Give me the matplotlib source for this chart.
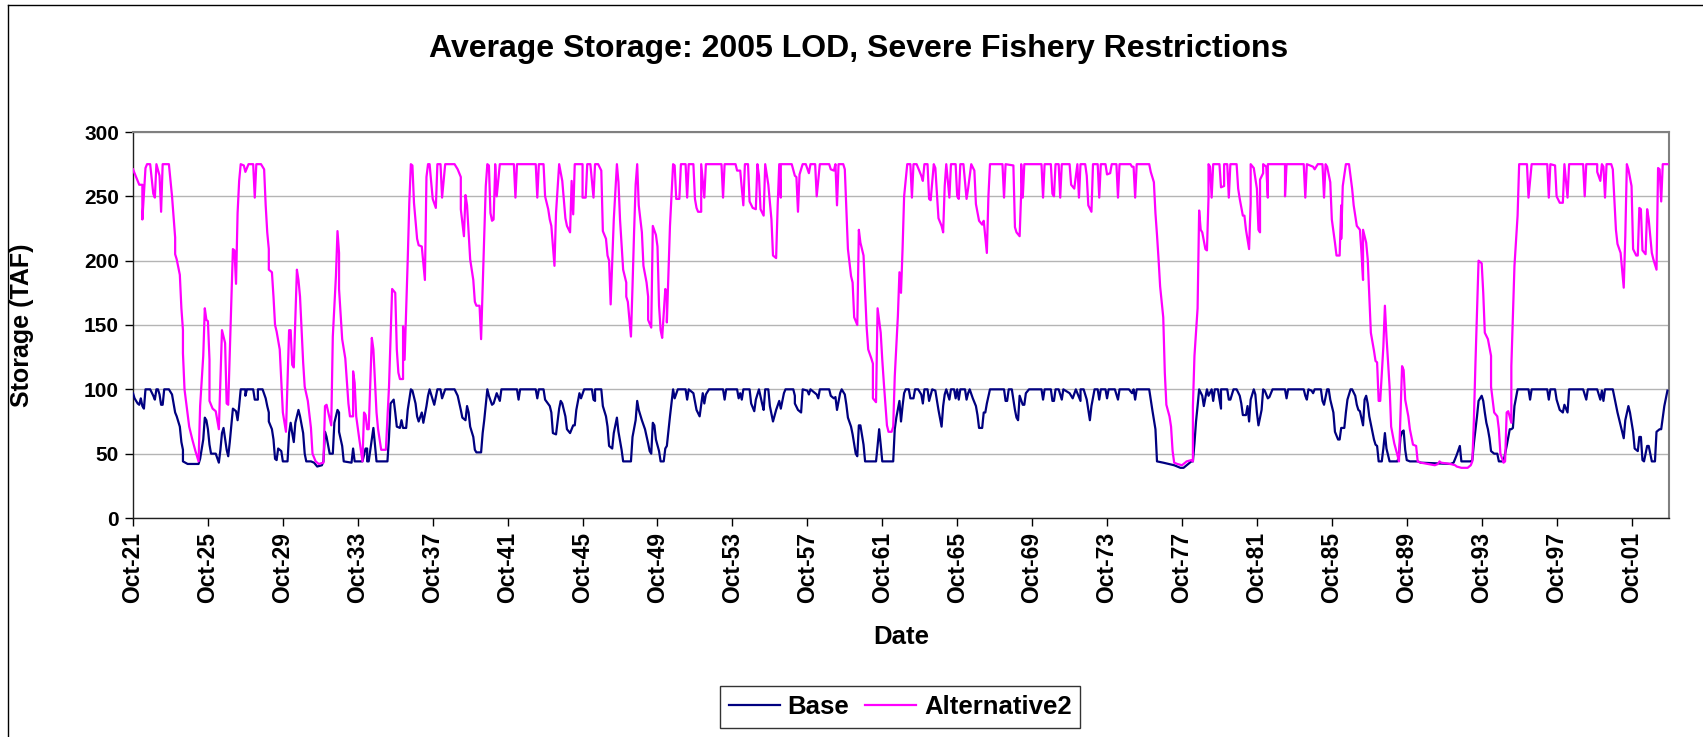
import matplotlib
matplotlib.use("Agg")
import matplotlib.pyplot as plt
from matplotlib.lines import Line2D

# Stockage moyen mensuel (TAF): (indice du mois depuis oct. 1921, valeur)
base_pts = [(0, 97), (1, 93), (3, 89), (4, 88), (5, 93), (6, 87), (7, 85), (8, 100), (11, 100), (13, 95), (14, 92),
            (15, 100), (16, 100), (17, 96), (18, 88), (19, 88), (20, 100), (23, 100), (25, 96), (26, 89), (27, 82),
            (28, 79), (30, 71), (31, 59), (32, 53), (32, 44), (35, 42), (42, 42), (43, 46), (45, 61), (46, 78),
            (47, 76), (48, 69), (49, 57), (50, 50), (53, 50), (55, 43), (56, 53), (57, 66), (58, 70), (60, 53),
            (61, 48), (62, 59), (64, 85), (66, 83), (67, 76), (68, 87), (69, 100), (72, 100), (72, 95), (73, 100),
            (77, 100), (78, 92), (80, 92), (80, 100), (83, 100), (85, 93), (86, 87), (87, 82), (87, 75), (89, 69),
            (90, 61), (91, 46), (92, 45), (93, 54), (95, 52), (96, 44), (99, 44), (100, 66), (101, 74), (102, 66),
            (103, 59), (104, 74), (106, 84), (107, 79), (109, 66), (110, 50), (111, 44), (114, 44), (116, 43),
            (118, 40), (121, 41), (122, 44), (123, 67), (124, 63), (126, 50), (128, 50), (129, 74), (131, 84),
            (132, 82), (132, 67), (134, 56), (135, 44), (140, 43), (141, 54), (142, 44), (147, 44), (149, 54),
            (150, 54), (150, 44), (151, 44), (153, 61), (154, 70), (156, 44), (163, 44), (164, 63), (165, 89),
            (167, 92), (168, 82), (169, 71), (171, 70), (172, 76), (173, 70), (175, 70), (176, 84), (178, 100),
            (179, 99), (181, 89), (182, 79), (183, 75), (185, 82), (186, 74), (188, 87), (189, 95), (190, 100),
            (192, 92), (193, 88), (195, 100), (197, 100), (198, 93), (200, 100), (206, 100), (208, 95), (210, 84),
            (211, 78), (213, 76), (214, 87), (215, 82), (216, 71), (218, 63), (219, 53), (220, 51), (223, 51),
            (224, 66), (225, 76), (227, 100), (228, 95), (230, 88), (231, 89), (233, 97), (235, 91), (236, 100),
            (246, 100), (247, 92), (248, 100), (258, 100), (259, 93), (260, 100), (263, 100), (264, 92), (267, 87),
            (268, 82), (269, 66), (271, 65), (273, 85), (274, 91), (275, 89), (277, 79), (278, 69), (280, 66),
            (282, 72), (283, 72), (284, 84), (286, 97), (287, 93), (289, 100), (294, 100), (295, 92), (296, 91),
            (296, 100), (300, 100), (301, 87), (303, 79), (304, 71), (305, 56), (307, 54), (308, 66), (310, 78),
            (311, 67), (313, 53), (314, 44), (319, 44), (320, 63), (322, 76), (323, 91), (324, 84), (326, 76),
            (328, 69), (330, 58), (331, 52), (332, 50), (333, 74), (334, 72), (335, 61), (337, 52), (338, 44),
            (340, 44), (341, 54), (342, 56), (344, 79), (346, 100), (347, 93), (349, 100), (354, 100), (355, 92),
            (356, 100), (359, 97), (361, 84), (363, 79), (365, 97), (366, 89), (367, 96), (369, 100), (378, 100),
            (379, 92), (380, 100), (387, 100), (388, 93), (389, 97), (390, 92), (391, 100), (395, 100), (396, 89),
            (398, 83), (399, 92), (401, 100), (403, 89), (404, 84), (405, 100), (407, 100), (408, 87), (410, 75),
            (412, 84), (414, 91), (415, 85), (417, 97), (418, 100), (423, 100), (424, 95), (424, 89), (426, 84),
            (428, 82), (429, 100), (432, 99), (433, 96), (434, 100), (438, 96), (439, 93), (440, 100), (446, 100),
            (447, 95), (449, 93), (450, 94), (451, 84), (453, 97), (454, 100), (456, 96), (457, 88), (458, 78),
            (460, 71), (461, 65), (463, 50), (464, 48), (465, 72), (466, 72), (468, 57), (469, 44), (476, 44),
            (477, 56), (478, 69), (479, 57), (480, 44), (487, 44), (488, 69), (489, 78), (491, 91), (492, 75),
            (493, 87), (494, 97), (495, 100), (497, 100), (498, 93), (500, 93), (501, 100), (503, 100), (505, 96),
            (506, 89), (507, 100), (509, 100), (510, 91), (512, 100), (514, 99), (516, 84), (518, 71), (519, 87),
            (520, 96), (521, 100), (523, 92), (524, 100), (526, 100), (527, 93), (528, 100), (529, 92), (530, 100),
            (533, 100), (534, 92), (535, 97), (536, 100), (538, 93), (540, 87), (541, 80), (542, 70), (544, 70),
            (545, 82), (546, 82), (547, 89), (549, 100), (558, 100), (559, 91), (560, 91), (561, 100), (563, 100),
            (565, 84), (566, 78), (567, 76), (568, 95), (570, 88), (571, 88), (572, 97), (574, 100), (582, 100),
            (583, 92), (584, 100), (588, 100), (589, 91), (590, 91), (591, 100), (593, 100), (595, 92), (596, 100),
            (600, 97), (602, 93), (604, 100), (605, 97), (607, 91), (607, 100), (609, 100), (611, 92), (612, 84),
            (613, 76), (614, 87), (616, 100), (618, 100), (619, 92), (620, 100), (623, 100), (624, 93), (625, 100),
            (629, 100), (631, 92), (632, 100), (638, 100), (640, 97), (641, 100), (642, 92), (643, 100), (651, 100),
            (652, 92), (653, 84), (655, 69), (656, 44), (660, 43), (667, 41), (671, 39), (673, 39), (675, 41),
            (678, 44), (679, 44), (680, 58), (681, 75), (682, 87), (683, 100), (685, 95), (686, 87), (688, 100),
            (689, 95), (691, 100), (692, 91), (693, 100), (695, 100), (697, 85), (697, 100), (701, 100), (702, 92),
            (703, 92), (705, 100), (707, 100), (709, 95), (710, 89), (711, 80), (713, 80), (714, 87), (715, 75),
            (716, 92), (718, 100), (719, 96), (720, 82), (721, 72), (723, 84), (724, 100), (725, 99), (727, 93),
            (728, 94), (730, 100), (738, 100), (739, 93), (740, 100), (750, 100), (751, 95), (752, 92), (753, 100),
            (755, 99), (756, 97), (757, 100), (761, 100), (762, 91), (763, 88), (765, 100), (766, 100), (767, 92),
            (769, 82), (770, 67), (772, 61), (773, 61), (774, 70), (776, 70), (777, 82), (778, 92), (780, 100),
            (781, 100), (783, 95), (784, 88), (785, 84), (786, 83), (788, 72), (789, 92), (790, 95), (791, 89),
            (792, 79), (794, 67), (795, 61), (796, 57), (797, 56), (798, 44), (800, 44), (801, 54), (802, 66),
            (803, 54), (805, 44), (810, 44), (811, 48), (812, 63), (813, 67), (814, 68), (815, 53), (816, 45),
            (818, 44), (823, 44), (825, 43), (844, 42), (846, 43), (848, 49), (850, 56), (851, 44), (857, 44),
            (858, 45), (859, 58), (861, 79), (862, 91), (864, 95), (865, 91), (866, 82), (867, 74), (868, 69),
            (869, 62), (870, 52), (872, 50), (874, 50), (875, 44), (878, 44), (880, 56), (882, 69), (883, 69),
            (884, 70), (885, 87), (887, 100), (894, 100), (895, 92), (896, 100), (906, 100), (907, 92), (908, 100),
            (911, 100), (912, 92), (914, 84), (916, 82), (917, 88), (919, 82), (920, 100), (929, 100), (931, 92),
            (932, 100), (938, 100), (940, 92), (941, 99), (942, 91), (943, 100), (948, 100), (950, 88), (951, 82),
            (953, 72), (954, 67), (955, 62), (956, 76), (958, 87), (959, 82), (961, 67), (962, 54), (964, 52),
            (965, 63), (966, 63), (967, 45), (968, 44), (970, 56), (971, 56), (973, 44), (975, 44), (976, 67),
            (978, 69), (979, 69), (981, 87), (983, 99)]

alt2_pts = [(0, 271), (4, 259), (6, 259), (6, 232), (8, 272), (9, 275), (11, 275), (13, 252), (14, 249), (15, 275),
            (17, 266), (18, 238), (19, 275), (23, 275), (25, 250), (27, 218), (27, 205), (28, 201), (30, 189),
            (31, 163), (32, 146), (32, 128), (33, 100), (36, 71), (38, 61), (40, 52), (42, 44), (43, 87), (45, 126),
            (46, 163), (47, 154), (48, 153), (49, 123), (49, 91), (51, 85), (53, 83), (54, 76), (55, 69), (56, 108),
            (57, 146), (59, 136), (60, 89), (61, 88), (62, 128), (64, 209), (65, 208), (66, 182), (67, 237),
            (68, 262), (69, 275), (71, 274), (72, 269), (74, 275), (77, 275), (78, 249), (79, 275), (82, 275),
            (84, 271), (85, 243), (86, 222), (87, 209), (87, 193), (89, 191), (90, 172), (91, 150), (92, 145),
            (94, 131), (96, 82), (98, 67), (100, 146), (101, 146), (102, 119), (103, 117), (104, 154), (105, 193),
            (106, 185), (107, 172), (109, 121), (110, 102), (112, 91), (114, 70), (115, 50), (117, 44), (119, 42),
            (122, 43), (123, 87), (124, 88), (127, 72), (128, 141), (130, 188), (131, 223), (132, 206), (132, 178),
            (134, 139), (136, 124), (138, 89), (139, 79), (141, 79), (141, 114), (142, 105), (143, 79), (145, 61),
            (147, 44), (148, 82), (149, 80), (150, 69), (151, 69), (153, 140), (154, 131), (156, 82), (157, 69),
            (159, 53), (162, 53), (164, 102), (165, 141), (166, 178), (168, 175), (169, 131), (170, 113), (171, 108),
            (173, 108), (173, 149), (174, 123), (175, 162), (176, 201), (177, 245), (178, 275), (179, 274),
            (180, 245), (182, 217), (183, 212), (185, 211), (187, 185), (188, 265), (189, 275), (190, 275),
            (192, 248), (194, 241), (195, 275), (197, 275), (198, 249), (200, 275), (206, 275), (208, 271),
            (210, 265), (210, 240), (212, 219), (213, 251), (214, 243), (216, 201), (218, 185), (219, 168),
            (220, 165), (222, 165), (223, 139), (224, 180), (225, 219), (226, 258), (227, 275), (228, 274),
            (229, 237), (230, 231), (231, 232), (232, 271), (232, 275), (233, 250), (235, 275), (244, 275),
            (245, 249), (246, 275), (258, 275), (259, 249), (260, 275), (263, 275), (264, 250), (266, 240),
            (267, 232), (268, 227), (270, 196), (271, 237), (273, 275), (275, 262), (277, 233), (278, 227),
            (280, 222), (281, 262), (282, 236), (283, 275), (288, 275), (288, 249), (290, 249), (291, 275),
            (293, 275), (295, 249), (296, 275), (298, 275), (300, 270), (301, 223), (303, 217), (304, 204),
            (305, 200), (306, 166), (308, 232), (310, 275), (311, 261), (312, 232), (314, 193), (316, 183),
            (316, 172), (317, 168), (319, 141), (320, 180), (321, 222), (322, 259), (323, 275), (324, 243),
            (326, 222), (327, 196), (329, 183), (330, 172), (330, 154), (332, 148), (333, 227), (335, 220),
            (336, 211), (337, 165), (338, 146), (339, 140), (341, 178), (342, 176), (342, 152), (344, 227),
            (346, 275), (347, 274), (348, 248), (350, 248), (351, 275), (354, 275), (355, 249), (356, 275),
            (359, 275), (360, 248), (361, 241), (362, 238), (364, 238), (364, 275), (366, 249), (367, 275),
            (377, 275), (378, 249), (379, 275), (386, 275), (387, 270), (389, 270), (391, 243), (392, 275),
            (394, 275), (395, 246), (397, 241), (399, 240), (400, 275), (401, 266), (402, 240), (404, 235),
            (405, 275), (407, 259), (409, 232), (410, 204), (412, 202), (413, 243), (414, 275), (415, 249),
            (415, 275), (422, 275), (424, 266), (425, 265), (426, 238), (427, 267), (429, 275), (431, 275),
            (433, 268), (434, 275), (437, 275), (438, 250), (440, 275), (446, 275), (447, 271), (449, 270),
            (450, 275), (451, 243), (452, 275), (455, 275), (456, 271), (457, 240), (458, 209), (460, 188),
            (461, 183), (462, 156), (464, 150), (465, 224), (466, 214), (468, 204), (469, 175), (470, 148),
            (471, 131), (473, 124), (474, 120), (474, 93), (476, 90), (477, 163), (479, 144), (480, 123),
            (481, 105), (483, 72), (484, 67), (486, 67), (487, 71), (488, 110), (490, 157), (491, 191), (492, 175),
            (493, 209), (494, 250), (496, 275), (498, 275), (499, 249), (500, 275), (502, 275), (504, 269),
            (505, 266), (506, 262), (507, 275), (509, 275), (510, 248), (511, 247), (513, 275), (514, 272),
            (516, 233), (518, 227), (519, 222), (520, 258), (521, 275), (523, 249), (524, 275), (527, 275),
            (528, 250), (529, 248), (530, 275), (532, 275), (534, 248), (535, 256), (537, 275), (539, 270),
            (540, 244), (542, 231), (544, 228), (545, 231), (547, 206), (548, 250), (549, 275), (557, 275),
            (558, 249), (559, 275), (564, 274), (565, 226), (566, 222), (568, 219), (569, 253), (569, 275),
            (570, 249), (571, 275), (582, 275), (583, 249), (584, 275), (588, 275), (589, 252), (590, 250),
            (591, 275), (593, 275), (594, 249), (595, 275), (600, 275), (601, 259), (603, 256), (605, 275),
            (606, 249), (607, 275), (610, 275), (611, 266), (612, 243), (614, 238), (615, 275), (618, 275),
            (619, 249), (620, 275), (623, 275), (624, 267), (626, 268), (627, 275), (630, 275), (631, 249),
            (632, 275), (639, 275), (640, 273), (641, 273), (642, 249), (643, 275), (651, 275), (652, 269),
            (654, 261), (655, 237), (656, 220), (657, 201), (658, 180), (660, 156), (661, 113), (662, 88),
            (664, 79), (665, 71), (666, 52), (667, 43), (669, 42), (672, 41), (675, 44), (678, 45), (679, 44),
            (679, 87), (680, 126), (682, 163), (683, 239), (684, 224), (685, 222), (687, 209), (688, 208),
            (689, 249), (689, 275), (690, 273), (691, 249), (692, 275), (696, 275), (697, 257), (699, 258),
            (699, 275), (701, 275), (702, 249), (703, 275), (707, 275), (708, 256), (709, 248), (711, 235),
            (712, 235), (713, 224), (715, 209), (716, 245), (716, 275), (718, 272), (720, 256), (721, 224),
            (722, 222), (722, 263), (724, 268), (724, 275), (726, 273), (727, 249), (727, 275), (738, 275),
            (738, 250), (739, 275), (750, 275), (751, 249), (752, 275), (756, 273), (757, 271), (759, 275),
            (762, 275), (763, 249), (764, 275), (765, 273), (767, 261), (768, 232), (770, 214), (771, 204),
            (773, 204), (774, 243), (774, 217), (775, 258), (777, 275), (779, 275), (781, 256), (782, 243),
            (783, 235), (784, 227), (786, 224), (787, 206), (788, 185), (788, 224), (790, 214), (791, 201),
            (792, 172), (793, 144), (795, 130), (796, 122), (797, 121), (798, 91), (799, 91), (801, 133),
            (802, 165), (803, 141), (805, 102), (806, 71), (808, 58), (810, 49), (811, 44), (812, 82), (813, 118),
            (814, 115), (815, 92), (817, 79), (818, 69), (820, 57), (822, 56), (823, 44), (825, 43), (834, 41),
            (836, 42), (837, 44), (838, 43), (844, 42), (847, 41), (848, 40), (851, 39), (855, 39), (857, 41),
            (858, 44), (859, 76), (860, 120), (861, 159), (862, 200), (864, 198), (865, 175), (866, 144),
            (868, 139), (870, 126), (870, 102), (872, 82), (874, 79), (875, 69), (876, 50), (878, 43), (879, 44),
            (880, 82), (881, 83), (883, 74), (883, 118), (884, 156), (885, 196), (887, 235), (888, 275), (893, 275),
            (894, 249), (896, 275), (906, 275), (907, 249), (908, 275), (911, 274), (912, 250), (914, 245),
            (916, 245), (917, 275), (919, 249), (920, 275), (929, 275), (930, 250), (931, 275), (938, 275),
            (938, 269), (940, 262), (941, 275), (942, 273), (943, 249), (944, 275), (947, 275), (948, 271),
            (949, 248), (950, 224), (951, 213), (953, 206), (955, 179), (956, 219), (957, 275), (958, 271),
            (960, 258), (961, 209), (963, 204), (964, 204), (965, 241), (966, 240), (967, 208), (969, 205),
            (970, 240), (971, 232), (973, 206), (974, 201), (976, 193), (977, 272), (978, 271), (979, 246),
            (980, 275), (983, 275)]

# Graduations de l'axe des dates : un repère tous les 4 ans (48 mois)
tick_months = [0, 48, 96, 144, 192, 240, 288, 336, 384, 432, 480, 528, 576, 624, 672, 720, 768, 816, 864, 912, 960]
tick_labels = ['Oct-21', 'Oct-25', 'Oct-29', 'Oct-33', 'Oct-37', 'Oct-41', 'Oct-45', 'Oct-49', 'Oct-53',
               'Oct-57', 'Oct-61', 'Oct-65', 'Oct-69', 'Oct-73', 'Oct-77', 'Oct-81', 'Oct-85', 'Oct-89',
               'Oct-93', 'Oct-97', 'Oct-01']
y_ticks = [0, 50, 100, 150, 200, 250, 300]

plt.rcParams['font.family'] = ['Liberation Sans', 'DejaVu Sans']
plt.rcParams['font.weight'] = 'bold'

W, H = 1703, 737
fig = plt.figure(figsize=(W / 100, H / 100), dpi=100)
ax = fig.add_axes([133 / W, 1 - 518 / H, 1536 / W, 386 / H])

base_m, base_v = zip(*base_pts)
alt_m, alt_v = zip(*alt2_pts)
ax.plot(base_m, base_v, color='#000080', lw=1.6, label='Base', zorder=3)
ax.plot(alt_m, alt_v, color='#FF00FF', lw=1.6, label='Alternative2', zorder=3)

ax.set_xlim(0, 984)
ax.set_ylim(0, 300)
ax.set_yticks(y_ticks)
ax.set_xticks(tick_months)
ax.set_xticklabels(tick_labels, rotation=90, fontsize=16.5, fontweight='bold')
ax.tick_params(axis='y', labelsize=15, length=6, width=1, pad=4)
ax.tick_params(axis='x', length=6, width=1, pad=4)
ax.grid(axis='y', color='#b4b4b4', lw=1)
ax.set_axisbelow(True)

for s in ['top', 'right']:
    ax.spines[s].set_color('#808080')
    ax.spines[s].set_linewidth(1.5)
for s in ['left', 'bottom']:
    ax.spines[s].set_color('#202020')
    ax.spines[s].set_linewidth(1)

ax.set_ylabel('Storage (TAF)', fontsize=18, fontweight='bold', va='center')
ax.yaxis.set_label_coords(-0.0723, 0.5)
ax.set_xlabel('Date', fontsize=18.5, fontweight='bold', va='center')
ax.xaxis.set_label_coords(0.5, -0.309)

fig.text(859 / W, 1 - 49 / H, 'Average Storage: 2005 LOD, Severe Fishery Restrictions',
         fontsize=23, fontweight='bold', ha='center', va='center')

leg = fig.legend(loc='center', bbox_to_anchor=(900 / W, 1 - 707 / H), ncol=2, fontsize=18.5,
                 frameon=True, fancybox=False, handlelength=2.0, handletextpad=0.3,
                 columnspacing=0.6, borderpad=0.35)
leg.get_frame().set_edgecolor('black')
leg.get_frame().set_linewidth(1)
for t in leg.get_texts():
    t.set_fontweight('bold')

# Cadre du graphique (bords haut et gauche visibles)
fig.add_artist(Line2D([8 / W, 8 / W], [0, 1 - 4.5 / H], transform=fig.transFigure, color='black', lw=1))
fig.add_artist(Line2D([8 / W, 1], [1 - 4.5 / H, 1 - 4.5 / H], transform=fig.transFigure, color='black', lw=1))

fig.savefig('out.png', dpi=100)
